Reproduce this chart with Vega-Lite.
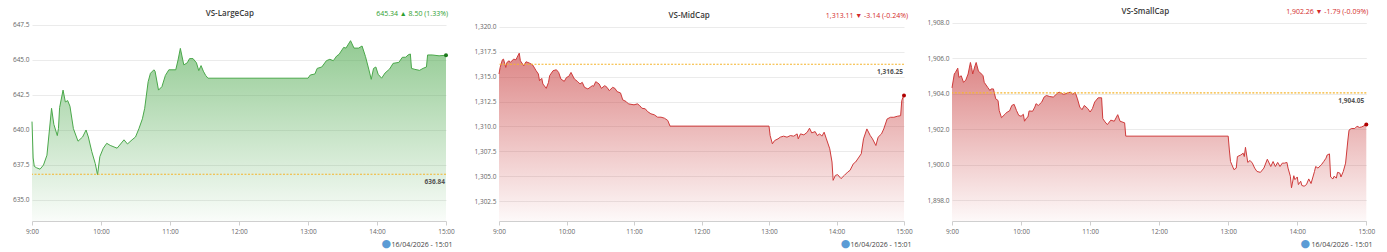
{
  "$schema": "https://vega.github.io/schema/vega-lite/v6.json",
  "padding": {"left": 12, "top": 8, "right": 5, "bottom": 2},
  "background": "white",
  "spacing": 0,
  "bounds": "flush",
  "config": {
    "font": "Open Sans",
    "view": {"stroke": null},
    "axisX": {"grid": false, "domainColor": "#cfcfcf", "tickColor": "#cfcfcf", "tickSize": 4, "labelFontSize": 6.5, "labelColor": "#666", "labelPadding": 3, "labelFlush": false, "labelOverlap": false, "titleFontSize": 7, "titleFontWeight": "normal", "titleColor": "#444", "titlePadding": 6, "titleAlign": "right"},
    "axisY": {"grid": true, "gridColor": "#ebebeb", "domain": false, "ticks": false, "labelFontSize": 6.5, "labelColor": "#666", "labelPadding": 3, "labelOverlap": false}
  },
  "hconcat": [
    {
      "width": 414, "height": 199,
      "data": {"format": {"parse": {"t": "date:'%H:%M'"}}, "values": [
        {"t":"09:00","v":640.6},{"t":"09:01","v":638.0},{"t":"09:02","v":637.4},{"t":"09:04","v":637.3},{"t":"09:07","v":637.2},{"t":"09:10","v":637.5},{"t":"09:13","v":638.2},{"t":"09:17","v":641.55},{"t":"09:19","v":640.4},{"t":"09:22","v":639.6},{"t":"09:23","v":640.1},{"t":"09:24","v":641.6},{"t":"09:27","v":642.85},{"t":"09:29","v":642.0},{"t":"09:31","v":642.1},{"t":"09:33","v":641.7},{"t":"09:36","v":640.1},{"t":"09:40","v":639.2},{"t":"09:44","v":639.5},{"t":"09:47","v":640.0},{"t":"09:49","v":639.5},{"t":"09:52","v":638.45},{"t":"09:55","v":637.6},{"t":"09:57","v":636.8},{"t":"09:59","v":638.1},{"t":"10:02","v":638.7},{"t":"10:05","v":639.05},{"t":"10:08","v":638.9},{"t":"10:14","v":638.7},{"t":"10:20","v":639.3},{"t":"10:23","v":639.0},{"t":"10:27","v":639.3},{"t":"10:30","v":639.5},{"t":"10:33","v":640.1},{"t":"10:36","v":640.8},{"t":"10:38","v":641.55},{"t":"10:41","v":643.45},{"t":"10:43","v":644.05},{"t":"10:46","v":644.3},{"t":"10:47","v":644.2},{"t":"10:50","v":642.85},{"t":"10:53","v":643.1},{"t":"10:56","v":643.9},{"t":"10:59","v":644.3},{"t":"11:05","v":644.3},{"t":"11:07","v":645.0},{"t":"11:09","v":645.83},{"t":"11:12","v":644.65},{"t":"11:15","v":644.8},{"t":"11:17","v":645.1},{"t":"11:20","v":645.1},{"t":"11:23","v":644.8},{"t":"11:25","v":644.24},{"t":"11:27","v":644.6},{"t":"11:29","v":644.2},{"t":"11:31","v":643.9},{"t":"11:33","v":643.7},{"t":"13:00","v":643.7},{"t":"13:02","v":643.93},{"t":"13:06","v":644.0},{"t":"13:08","v":644.4},{"t":"13:12","v":644.5},{"t":"13:16","v":644.95},{"t":"13:19","v":645.05},{"t":"13:22","v":644.95},{"t":"13:25","v":645.29},{"t":"13:27","v":645.4},{"t":"13:31","v":645.9},{"t":"13:33","v":645.85},{"t":"13:37","v":646.38},{"t":"13:40","v":645.85},{"t":"13:44","v":645.85},{"t":"13:47","v":646.0},{"t":"13:50","v":645.24},{"t":"13:53","v":644.29},{"t":"13:55","v":643.62},{"t":"13:57","v":644.4},{"t":"13:59","v":644.5},{"t":"14:01","v":643.98},{"t":"14:04","v":643.7},{"t":"14:07","v":644.07},{"t":"14:11","v":644.36},{"t":"14:14","v":644.76},{"t":"14:19","v":644.83},{"t":"14:22","v":645.19},{"t":"14:25","v":645.2},{"t":"14:27","v":645.36},{"t":"14:29","v":645.43},{"t":"14:30","v":644.4},{"t":"14:33","v":644.33},{"t":"14:37","v":644.26},{"t":"14:40","v":644.4},{"t":"14:43","v":644.5},{"t":"14:44","v":645.36},{"t":"14:48","v":645.36},{"t":"14:54","v":645.3},{"t":"15:00","v":645.34}
      ]},
      "layer": [
        {"mark": {"type": "area", "color": {"gradient": "linear", "x1": 0, "y1": 0, "x2": 0, "y2": 1, "stops": [{"offset": 0, "color": "rgba(80,170,80,0.62)"}, {"offset": 1, "color": "rgba(80,170,80,0.03)"}]}},
         "encoding": {
           "x": {"field": "t", "type": "temporal", "scale": {"domain": [{"year":1900,"month":1,"date":1,"hours":9},{"year":1900,"month":1,"date":1,"hours":15}], "nice": false}, "axis": {"format": "%-H:%M", "title": "16/04/2026 - 15:01", "titleX": 420, "labelOverlap": false, "tickCount": 20, "values": [{"year":1900,"month":1,"date":1,"hours":9},{"year":1900,"month":1,"date":1,"hours":10},{"year":1900,"month":1,"date":1,"hours":11},{"year":1900,"month":1,"date":1,"hours":12},{"year":1900,"month":1,"date":1,"hours":13},{"year":1900,"month":1,"date":1,"hours":14},{"year":1900,"month":1,"date":1,"hours":15}]}},
           "y": {"field": "v", "type": "quantitative", "scale": {"domain": [633.5, 647.714], "nice": false, "zero": false}, "axis": {"title": null, "format": ".1f", "labelOverlap": false, "tickCount": 20, "values": [635, 637.5, 640, 642.5, 645, 647.5]}},
           "y2": {"datum": 633.5}
         }},
        {"mark": {"type": "line", "color": "#4aa84a", "strokeWidth": 1},
         "encoding": {"x": {"field": "t", "type": "temporal"}, "y": {"field": "v", "type": "quantitative"}}},
        {"transform": [{"filter": "hours(datum.t) == 15"}],
         "mark": {"type": "point", "filled": true, "color": "#1b7a1b", "size": 16, "opacity": 1},
         "encoding": {"x": {"field": "t", "type": "temporal"}, "y": {"field": "v", "type": "quantitative"}}},
        {"data": {"values": [{"v": 636.84}]},
         "mark": {"type": "rule", "color": "#f5b52e", "strokeDash": [2, 1.5], "strokeWidth": 1.2},
         "encoding": {"y": {"field": "v", "type": "quantitative"}}},
        {"data": {"values": [{"t": "15:00", "v": 636.84, "reflabel": "636.84"}], "format": {"parse": {"t": "date:'%H:%M'"}}},
         "mark": {"type": "text", "align": "right", "baseline": "middle", "dy": 8, "dx": -1, "fontSize": 6.5, "fontWeight": "bold", "color": "#555"},
         "encoding": {"x": {"field": "t", "type": "temporal"}, "y": {"field": "v", "type": "quantitative"}, "text": {"field": "reflabel", "type": "nominal"}}},
        {"data": {"values": [{"t": "15:00", "label": "645.34  ▲ 8.50 (1.33%)"}], "format": {"parse": {"t": "date:'%H:%M'"}}},
         "mark": {"type": "text", "align": "right", "baseline": "middle", "dy": -7.7, "dx": 2, "fontSize": 7, "color": "#2e9e2e"},
         "encoding": {"x": {"field": "t", "type": "temporal"}, "y": {"datum": 647.714, "type": "quantitative"}, "text": {"field": "label"}}},
        {"data": {"values": [{"t": "11:52", "label": "VS-LargeCap"}], "format": {"parse": {"t": "date:'%H:%M'"}}},
         "mark": {"type": "text", "align": "center", "baseline": "middle", "dy": -7.7, "fontSize": 8, "fontWeight": 600, "color": "#3a3a3a"},
         "encoding": {"x": {"field": "t", "type": "temporal"}, "y": {"datum": 647.714, "type": "quantitative"}, "text": {"field": "label"}}},
        {"data": {"values": [{"t": "14:08", "icon": "●", "panel": "LargeCap"}], "format": {"parse": {"t": "date:'%H:%M'"}}},
         "mark": {"type": "text", "align": "center", "baseline": "middle", "dy": 30, "fontSize": 11, "font": "DejaVu Sans", "color": "#5b9bd5"},
         "encoding": {"x": {"field": "t", "type": "temporal"}, "y": {"datum": 634, "type": "quantitative"}, "text": {"field": "icon"}}}
      ]
    },
    {"width": 52.3, "height": 199, "data": {"values": []}, "mark": "point"},
    {
      "width": 405, "height": 199,
      "data": {"format": {"parse": {"t": "date:'%H:%M'"}}, "values": [
        {"t":"09:00","v":1315.27},{"t":"09:01","v":1315.93},{"t":"09:03","v":1316.7},{"t":"09:04","v":1316.77},{"t":"09:06","v":1315.93},{"t":"09:07","v":1316.43},{"t":"09:09","v":1316.6},{"t":"09:10","v":1316.43},{"t":"09:13","v":1316.77},{"t":"09:15","v":1316.7},{"t":"09:16","v":1316.93},{"t":"09:18","v":1317.37},{"t":"09:19","v":1316.6},{"t":"09:22","v":1316.1},{"t":"09:24","v":1316.5},{"t":"09:27","v":1316.37},{"t":"09:30","v":1316.17},{"t":"09:33","v":1315.6},{"t":"09:35","v":1315.27},{"t":"09:36","v":1314.6},{"t":"09:38","v":1314.83},{"t":"09:39","v":1314.27},{"t":"09:42","v":1313.83},{"t":"09:44","v":1314.43},{"t":"09:45","v":1315.1},{"t":"09:48","v":1315.6},{"t":"09:51","v":1315.7},{"t":"09:53","v":1315.43},{"t":"09:55","v":1314.77},{"t":"09:58","v":1314.53},{"t":"10:00","v":1314.93},{"t":"10:02","v":1315.03},{"t":"10:04","v":1315.43},{"t":"10:07","v":1314.77},{"t":"10:10","v":1314.5},{"t":"10:12","v":1314.27},{"t":"10:14","v":1314.43},{"t":"10:16","v":1313.93},{"t":"10:19","v":1313.77},{"t":"10:23","v":1314.1},{"t":"10:24","v":1314.03},{"t":"10:26","v":1314.5},{"t":"10:29","v":1314.27},{"t":"10:31","v":1313.83},{"t":"10:34","v":1314.1},{"t":"10:36","v":1313.93},{"t":"10:38","v":1313.6},{"t":"10:41","v":1313.93},{"t":"10:43","v":1313.83},{"t":"10:45","v":1313.5},{"t":"10:48","v":1313.37},{"t":"10:50","v":1312.67},{"t":"10:53","v":1312.5},{"t":"10:55","v":1312.27},{"t":"11:00","v":1312.17},{"t":"11:03","v":1312.27},{"t":"11:05","v":1312.1},{"t":"11:07","v":1311.83},{"t":"11:10","v":1311.77},{"t":"11:12","v":1311.5},{"t":"11:15","v":1311.27},{"t":"11:18","v":1311.17},{"t":"11:21","v":1310.93},{"t":"11:24","v":1310.93},{"t":"11:27","v":1310.83},{"t":"11:30","v":1310.6},{"t":"11:32","v":1310.03},{"t":"13:00","v":1310.03},{"t":"13:01","v":1309.08},{"t":"13:03","v":1308.25},{"t":"13:05","v":1308.58},{"t":"13:08","v":1308.75},{"t":"13:10","v":1308.92},{"t":"13:13","v":1309.02},{"t":"13:16","v":1308.92},{"t":"13:19","v":1309.08},{"t":"13:22","v":1309.02},{"t":"13:25","v":1309.25},{"t":"13:26","v":1308.75},{"t":"13:28","v":1309.25},{"t":"13:31","v":1309.15},{"t":"13:34","v":1309.42},{"t":"13:36","v":1309.82},{"t":"13:38","v":1309.35},{"t":"13:41","v":1309.48},{"t":"13:43","v":1309.08},{"t":"13:45","v":1309.25},{"t":"13:47","v":1309.02},{"t":"13:49","v":1309.42},{"t":"13:51","v":1308.75},{"t":"13:54","v":1307.75},{"t":"13:56","v":1306.42},{"t":"13:57","v":1304.58},{"t":"13:59","v":1305.08},{"t":"14:01","v":1305.15},{"t":"14:04","v":1304.75},{"t":"14:07","v":1305.08},{"t":"14:10","v":1305.42},{"t":"14:12","v":1305.58},{"t":"14:15","v":1306.25},{"t":"14:17","v":1306.42},{"t":"14:20","v":1306.92},{"t":"14:22","v":1307.25},{"t":"14:24","v":1308.75},{"t":"14:27","v":1309.75},{"t":"14:30","v":1309.08},{"t":"14:32","v":1308.75},{"t":"14:35","v":1308.08},{"t":"14:37","v":1308.92},{"t":"14:40","v":1309.25},{"t":"14:42","v":1309.75},{"t":"14:45","v":1310.75},{"t":"14:48","v":1310.92},{"t":"14:51","v":1310.92},{"t":"14:54","v":1311.02},{"t":"14:57","v":1311.08},{"t":"14:58","v":1312.58},{"t":"14:59","v":1312.92},{"t":"15:00","v":1313.11}
      ]},
      "layer": [
        {"mark": {"type": "area", "color": {"gradient": "linear", "x1": 0, "y1": 0, "x2": 0, "y2": 1, "stops": [{"offset": 0, "color": "rgba(200,60,60,0.62)"}, {"offset": 1, "color": "rgba(200,60,60,0.03)"}]}},
         "encoding": {
           "x": {"field": "t", "type": "temporal", "scale": {"domain": [{"year":1900,"month":1,"date":1,"hours":9},{"year":1900,"month":1,"date":1,"hours":15}], "nice": false}, "axis": {"format": "%-H:%M", "title": "16/04/2026 - 15:01", "titleX": 412, "labelOverlap": false, "tickCount": 20, "values": [{"year":1900,"month":1,"date":1,"hours":9},{"year":1900,"month":1,"date":1,"hours":10},{"year":1900,"month":1,"date":1,"hours":11},{"year":1900,"month":1,"date":1,"hours":12},{"year":1900,"month":1,"date":1,"hours":13},{"year":1900,"month":1,"date":1,"hours":14},{"year":1900,"month":1,"date":1,"hours":15}]}},
           "y": {"field": "v", "type": "quantitative", "scale": {"domain": [1300.49, 1320.5], "nice": false, "zero": false}, "axis": {"title": null, "format": ",.1f", "labelOverlap": false, "tickCount": 20, "values": [1302.5, 1305, 1307.5, 1310, 1312.5, 1315, 1317.5, 1320]}},
           "y2": {"datum": 1300.49}
         }},
        {"mark": {"type": "line", "color": "#cf3b3b", "strokeWidth": 1},
         "encoding": {"x": {"field": "t", "type": "temporal"}, "y": {"field": "v", "type": "quantitative"}}},
        {"transform": [{"filter": "hours(datum.t) == 15"}],
         "mark": {"type": "point", "filled": true, "color": "#b00000", "size": 16, "opacity": 1},
         "encoding": {"x": {"field": "t", "type": "temporal"}, "y": {"field": "v", "type": "quantitative"}}},
        {"data": {"values": [{"v": 1316.25}]},
         "mark": {"type": "rule", "color": "#f5b52e", "strokeDash": [2, 1.5], "strokeWidth": 1.2},
         "encoding": {"y": {"field": "v", "type": "quantitative"}}},
        {"data": {"values": [{"t": "15:00", "v": 1316.25, "reflabel": "1,316.25"}], "format": {"parse": {"t": "date:'%H:%M'"}}},
         "mark": {"type": "text", "align": "right", "baseline": "middle", "dy": 8, "dx": -1, "fontSize": 6.5, "fontWeight": "bold", "color": "#555"},
         "encoding": {"x": {"field": "t", "type": "temporal"}, "y": {"field": "v", "type": "quantitative"}, "text": {"field": "reflabel", "type": "nominal"}}},
        {"data": {"values": [{"t": "15:00", "label": "1,313.11  ▼ -3.14 (-0.24%)"}], "format": {"parse": {"t": "date:'%H:%M'"}}},
         "mark": {"type": "text", "align": "right", "baseline": "middle", "dy": -6.3, "dx": 4, "fontSize": 7, "color": "#d32a2a"},
         "encoding": {"x": {"field": "t", "type": "temporal"}, "y": {"datum": 1320.5, "type": "quantitative"}, "text": {"field": "label"}}},
        {"data": {"values": [{"t": "11:49", "label": "VS-MidCap"}], "format": {"parse": {"t": "date:'%H:%M'"}}},
         "mark": {"type": "text", "align": "center", "baseline": "middle", "dy": -6.3, "fontSize": 8, "fontWeight": 600, "color": "#3a3a3a"},
         "encoding": {"x": {"field": "t", "type": "temporal"}, "y": {"datum": 1320.5, "type": "quantitative"}, "text": {"field": "label"}}},
        {"data": {"values": [{"t": "14:08", "icon": "●", "panel": "MidCap"}], "format": {"parse": {"t": "date:'%H:%M'"}}},
         "mark": {"type": "text", "align": "center", "baseline": "middle", "dy": 28, "fontSize": 11, "font": "DejaVu Sans", "color": "#5b9bd5"},
         "encoding": {"x": {"field": "t", "type": "temporal"}, "y": {"datum": 1301, "type": "quantitative"}, "text": {"field": "icon"}}}
      ]
    },
    {"width": 47.4, "height": 199, "data": {"values": []}, "mark": "point"},
    {
      "width": 414.3, "height": 199,
      "data": {"format": {"parse": {"t": "date:'%H:%M'"}}, "values": [
        {"t":"09:00","v":1904.33},{"t":"09:02","v":1905.11},{"t":"09:03","v":1905.2},{"t":"09:05","v":1905.44},{"t":"09:06","v":1904.92},{"t":"09:08","v":1905.01},{"t":"09:09","v":1904.83},{"t":"09:10","v":1904.64},{"t":"09:12","v":1904.77},{"t":"09:14","v":1905.11},{"t":"09:16","v":1905.76},{"t":"09:17","v":1905.48},{"t":"09:18","v":1905.11},{"t":"09:20","v":1905.57},{"t":"09:21","v":1905.76},{"t":"09:23","v":1905.26},{"t":"09:25","v":1905.16},{"t":"09:27","v":1905.01},{"t":"09:28","v":1904.64},{"t":"09:31","v":1904.36},{"t":"09:33","v":1904.18},{"t":"09:34","v":1904.27},{"t":"09:36","v":1904.27},{"t":"09:38","v":1903.71},{"t":"09:40","v":1903.62},{"t":"09:41","v":1903.06},{"t":"09:43","v":1902.65},{"t":"09:46","v":1902.84},{"t":"09:48","v":1902.97},{"t":"09:50","v":1903.03},{"t":"09:52","v":1903.34},{"t":"09:54","v":1903.4},{"t":"09:56","v":1903.06},{"t":"09:58","v":1902.78},{"t":"10:00","v":1902.73},{"t":"10:02","v":1902.84},{"t":"10:03","v":1902.45},{"t":"10:05","v":1902.65},{"t":"10:06","v":1902.69},{"t":"10:07","v":1903.03},{"t":"10:10","v":1903.01},{"t":"10:12","v":1903.25},{"t":"10:13","v":1903.44},{"t":"10:15","v":1903.34},{"t":"10:18","v":1903.53},{"t":"10:20","v":1903.81},{"t":"10:22","v":1903.9},{"t":"10:25","v":1903.84},{"t":"10:28","v":1903.81},{"t":"10:31","v":1903.99},{"t":"10:33","v":1904.09},{"t":"10:35","v":1904.03},{"t":"10:37","v":1903.96},{"t":"10:40","v":1904.03},{"t":"10:43","v":1904.09},{"t":"10:45","v":1903.96},{"t":"10:47","v":1904.09},{"t":"10:49","v":1903.71},{"t":"10:51","v":1903.25},{"t":"10:53","v":1903.1},{"t":"10:55","v":1903.34},{"t":"10:58","v":1903.16},{"t":"11:00","v":1902.97},{"t":"11:02","v":1903.16},{"t":"11:04","v":1903.53},{"t":"11:07","v":1903.77},{"t":"11:10","v":1903.77},{"t":"11:11","v":1902.6},{"t":"11:13","v":1902.41},{"t":"11:15","v":1902.26},{"t":"11:18","v":1902.51},{"t":"11:21","v":1902.45},{"t":"11:24","v":1902.82},{"t":"11:26","v":1902.45},{"t":"11:30","v":1902.36},{"t":"11:31","v":1901.61},{"t":"13:00","v":1901.61},{"t":"13:01","v":1900.83},{"t":"13:02","v":1900.18},{"t":"13:05","v":1899.72},{"t":"13:07","v":1899.81},{"t":"13:08","v":1900.46},{"t":"13:11","v":1900.55},{"t":"13:13","v":1900.65},{"t":"13:14","v":1900.46},{"t":"13:15","v":1900.98},{"t":"13:17","v":1900.13},{"t":"13:19","v":1900.24},{"t":"13:21","v":1900.09},{"t":"13:23","v":1899.81},{"t":"13:25","v":1899.62},{"t":"13:28","v":1899.57},{"t":"13:31","v":1899.81},{"t":"13:34","v":1900.31},{"t":"13:37","v":1899.9},{"t":"13:39","v":1900.18},{"t":"13:41","v":1899.9},{"t":"13:43","v":1900.13},{"t":"13:45","v":1899.9},{"t":"13:47","v":1900.09},{"t":"13:49","v":1900.09},{"t":"13:51","v":1900.13},{"t":"13:52","v":1899.81},{"t":"13:54","v":1899.35},{"t":"13:55","v":1898.7},{"t":"13:57","v":1899.38},{"t":"13:58","v":1899.16},{"t":"14:00","v":1899.31},{"t":"14:01","v":1898.88},{"t":"14:03","v":1899.07},{"t":"14:04","v":1898.83},{"t":"14:06","v":1898.79},{"t":"14:08","v":1898.88},{"t":"14:10","v":1899.2},{"t":"14:12","v":1898.94},{"t":"14:15","v":1899.62},{"t":"14:16","v":1899.9},{"t":"14:18","v":1899.81},{"t":"14:21","v":1900.0},{"t":"14:23","v":1900.18},{"t":"14:25","v":1900.37},{"t":"14:26","v":1900.55},{"t":"14:28","v":1900.61},{"t":"14:29","v":1899.31},{"t":"14:31","v":1899.2},{"t":"14:32","v":1899.35},{"t":"14:34","v":1899.25},{"t":"14:35","v":1899.57},{"t":"14:37","v":1899.53},{"t":"14:38","v":1899.31},{"t":"14:40","v":1899.62},{"t":"14:42","v":1900.09},{"t":"14:44","v":1901.39},{"t":"14:45","v":1901.95},{"t":"14:47","v":1902.04},{"t":"14:50","v":1902.04},{"t":"14:52","v":1902.17},{"t":"14:54","v":1902.1},{"t":"14:56","v":1902.13},{"t":"15:00","v":1902.26}
      ]},
      "layer": [
        {"mark": {"type": "area", "color": {"gradient": "linear", "x1": 0, "y1": 0, "x2": 0, "y2": 1, "stops": [{"offset": 0, "color": "rgba(200,60,60,0.62)"}, {"offset": 1, "color": "rgba(200,60,60,0.03)"}]}},
         "encoding": {
           "x": {"field": "t", "type": "temporal", "scale": {"domain": [{"year":1900,"month":1,"date":1,"hours":9},{"year":1900,"month":1,"date":1,"hours":15}], "nice": false}, "axis": {"format": "%-H:%M", "title": "16/04/2026 - 15:01", "titleX": 420, "labelOverlap": false, "tickCount": 20, "values": [{"year":1900,"month":1,"date":1,"hours":9},{"year":1900,"month":1,"date":1,"hours":10},{"year":1900,"month":1,"date":1,"hours":11},{"year":1900,"month":1,"date":1,"hours":12},{"year":1900,"month":1,"date":1,"hours":13},{"year":1900,"month":1,"date":1,"hours":14},{"year":1900,"month":1,"date":1,"hours":15}]}},
           "y": {"field": "v", "type": "quantitative", "scale": {"domain": [1896.83, 1908.04], "nice": false, "zero": false}, "axis": {"title": null, "format": ",.1f", "labelOverlap": false, "tickCount": 20, "values": [1898, 1900, 1902, 1904, 1906, 1908]}},
           "y2": {"datum": 1896.83}
         }},
        {"mark": {"type": "line", "color": "#cf3b3b", "strokeWidth": 1},
         "encoding": {"x": {"field": "t", "type": "temporal"}, "y": {"field": "v", "type": "quantitative"}}},
        {"transform": [{"filter": "hours(datum.t) == 15"}],
         "mark": {"type": "point", "filled": true, "color": "#b00000", "size": 16, "opacity": 1},
         "encoding": {"x": {"field": "t", "type": "temporal"}, "y": {"field": "v", "type": "quantitative"}}},
        {"data": {"values": [{"v": 1904.05}]},
         "mark": {"type": "rule", "color": "#f5b52e", "strokeDash": [2, 1.5], "strokeWidth": 1.2},
         "encoding": {"y": {"field": "v", "type": "quantitative"}}},
        {"data": {"values": [{"t": "15:00", "v": 1904.05, "reflabel": "1,904.05"}], "format": {"parse": {"t": "date:'%H:%M'"}}},
         "mark": {"type": "text", "align": "right", "baseline": "middle", "dy": 8, "dx": -2, "fontSize": 6.5, "fontWeight": "bold", "color": "#555"},
         "encoding": {"x": {"field": "t", "type": "temporal"}, "y": {"field": "v", "type": "quantitative"}, "text": {"field": "reflabel", "type": "nominal"}}},
        {"data": {"values": [{"t": "15:00", "label": "1,902.26  ▼ -1.79 (-0.09%)"}], "format": {"parse": {"t": "date:'%H:%M'"}}},
         "mark": {"type": "text", "align": "right", "baseline": "middle", "dy": -9.7, "dx": 2, "fontSize": 7, "color": "#d32a2a"},
         "encoding": {"x": {"field": "t", "type": "temporal"}, "y": {"datum": 1908.04, "type": "quantitative"}, "text": {"field": "label"}}},
        {"data": {"values": [{"t": "11:48", "label": "VS-SmallCap"}], "format": {"parse": {"t": "date:'%H:%M'"}}},
         "mark": {"type": "text", "align": "center", "baseline": "middle", "dy": -9.7, "fontSize": 8, "fontWeight": 600, "color": "#3a3a3a"},
         "encoding": {"x": {"field": "t", "type": "temporal"}, "y": {"datum": 1908.04, "type": "quantitative"}, "text": {"field": "label"}}},
        {"data": {"values": [{"t": "14:07", "icon": "●", "panel": "SmallCap"}], "format": {"parse": {"t": "date:'%H:%M'"}}},
         "mark": {"type": "text", "align": "center", "baseline": "middle", "dy": 26, "fontSize": 11, "font": "DejaVu Sans", "color": "#5b9bd5"},
         "encoding": {"x": {"field": "t", "type": "temporal"}, "y": {"datum": 1897, "type": "quantitative"}, "text": {"field": "icon"}}}
      ]
    }
  ]
}
